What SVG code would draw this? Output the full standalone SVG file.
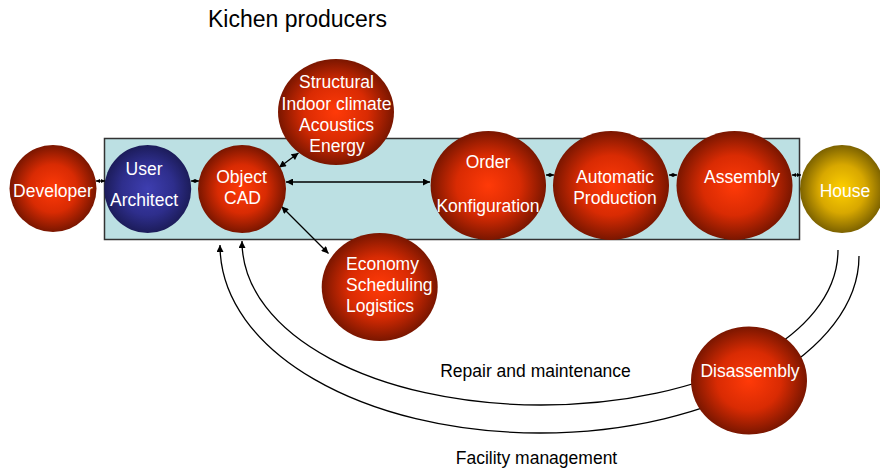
<svg xmlns="http://www.w3.org/2000/svg" width="880" height="471" viewBox="0 0 880 471">
<defs>
<radialGradient id="gRed" cx="50%" cy="50%" r="50%">
<stop offset="0" stop-color="#ff3a08"/>
<stop offset="0.55" stop-color="#d92b03"/>
<stop offset="1" stop-color="#7a1600"/>
</radialGradient>
<radialGradient id="gBlue" cx="50%" cy="50%" r="50%">
<stop offset="0" stop-color="#3e3eb0"/>
<stop offset="0.6" stop-color="#2e2e8c"/>
<stop offset="1" stop-color="#1c1c5a"/>
</radialGradient>
<radialGradient id="gGold" cx="50%" cy="50%" r="50%">
<stop offset="0" stop-color="#ffd000"/>
<stop offset="0.55" stop-color="#d8a800"/>
<stop offset="1" stop-color="#7c6200"/>
</radialGradient>
<marker id="ah" viewBox="0 0 10 10" refX="10" refY="5" markerWidth="9" markerHeight="7" markerUnits="userSpaceOnUse" orient="auto-start-reverse">
<path d="M0,0 L10,5 L0,10 z" fill="#000"/>
</marker>
<marker id="ahs" viewBox="0 0 10 10" refX="10" refY="5" markerWidth="4" markerHeight="6" markerUnits="userSpaceOnUse" orient="auto-start-reverse">
<path d="M0,0 L10,5 L0,10 z" fill="#000"/>
</marker>
</defs>
<style>
.lbl{font-family:"Liberation Sans",Arial,Helvetica,sans-serif;font-size:17.5px;fill:#fff;text-anchor:middle}
.blk{font-family:"Liberation Sans",Arial,Helvetica,sans-serif;fill:#000}
.con{fill:none;stroke:#000;stroke-width:1.3}
.big{marker-start:url(#ah);marker-end:url(#ah)}
.small{marker-start:url(#ahs);marker-end:url(#ahs)}
</style>
<rect width="880" height="471" fill="#fff"/>
<text class="blk" x="208" y="27" font-size="23">Kichen producers</text>
<g id="frame">
<rect x="104.5" y="138.5" width="695" height="101" fill="#bce0e3" stroke="#333" stroke-width="1.5"/>
</g>
<g id="connectors">
<line class="con small" x1="96" y1="181" x2="105" y2="181"/>
<line class="con small" x1="191" y1="181" x2="199" y2="181"/>
<line class="con big" x1="286" y1="182" x2="430" y2="182"/>
<line class="con big" x1="279" y1="167.5" x2="298.5" y2="153"/>
<line class="con big" x1="281.5" y1="206.5" x2="328.5" y2="253.5"/>
<line class="con small" x1="546" y1="175" x2="554" y2="175"/>
<line class="con small" x1="669" y1="175" x2="677" y2="175"/>
<line class="con small" x1="792" y1="175" x2="801" y2="175"/>
<path class="con" marker-end="url(#ah)" d="M838,250 C838,338 705,405 541,405 C377,405 242,336 242,241"/>
<path class="con" marker-end="url(#ah)" d="M859,256 C859,352 716,433 540,433 C364,433 220,352 220,245"/>
</g>
<g id="developer">
<ellipse cx="53" cy="188.5" rx="43.5" ry="43.5" fill="url(#gRed)"/>
<text class="lbl" x="53" y="196.5">Developer</text>
</g>
<g id="user-architect">
<ellipse cx="147.7" cy="189" rx="43.5" ry="44" fill="url(#gBlue)"/>
<text class="lbl" x="144" y="174.5">User</text>
<text class="lbl" x="144" y="206">Architect</text>
</g>
<g id="object-cad">
<ellipse cx="242" cy="189" rx="44" ry="44" fill="url(#gRed)"/>
<text class="lbl" x="241.5" y="182.5">Object</text>
<text class="lbl" x="242.5" y="203.5">CAD</text>
</g>
<g id="analysis">
<ellipse cx="336" cy="112" rx="58" ry="53" fill="url(#gRed)"/>
<text class="lbl" x="336.5" y="87.5">Structural</text>
<text class="lbl" x="336.5" y="109.5">Indoor climate</text>
<text class="lbl" x="336.5" y="131">Acoustics</text>
<text class="lbl" x="337" y="152">Energy</text>
</g>
<g id="economy">
<ellipse cx="379.7" cy="287" rx="58" ry="54" fill="url(#gRed)"/>
<text class="lbl" x="346" y="269.5" text-anchor="start" style="text-anchor:start">Economy</text>
<text class="lbl" x="346" y="291" style="text-anchor:start">Scheduling</text>
<text class="lbl" x="346" y="312" style="text-anchor:start">Logistics</text>
</g>
<g id="order">
<ellipse cx="488.3" cy="185.5" rx="57.7" ry="54.5" fill="url(#gRed)"/>
<text class="lbl" x="488" y="167.5">Order</text>
<text class="lbl" x="488" y="211.5">Konfiguration</text>
</g>
<g id="production">
<ellipse cx="611" cy="185.5" rx="58" ry="54.5" fill="url(#gRed)"/>
<text class="lbl" x="615" y="182.5">Automatic</text>
<text class="lbl" x="615" y="204">Production</text>
</g>
<g id="assembly">
<ellipse cx="734.5" cy="185.5" rx="58" ry="54.5" fill="url(#gRed)"/>
<text class="lbl" x="742" y="182.5">Assembly</text>
</g>
<g id="house">
<ellipse cx="842" cy="189" rx="42" ry="44" fill="url(#gGold)"/>
<text class="lbl" x="845" y="196.5">House</text>
</g>
<g id="disassembly">
<ellipse cx="749" cy="380.5" rx="58" ry="54" fill="url(#gRed)"/>
<text class="lbl" x="750" y="377">Disassembly</text>
</g>
<text class="blk" x="535.5" y="377" font-size="17.5" text-anchor="middle">Repair and maintenance</text>
<text class="blk" x="536.5" y="463.5" font-size="17.5" text-anchor="middle">Facility management</text>
</svg>
